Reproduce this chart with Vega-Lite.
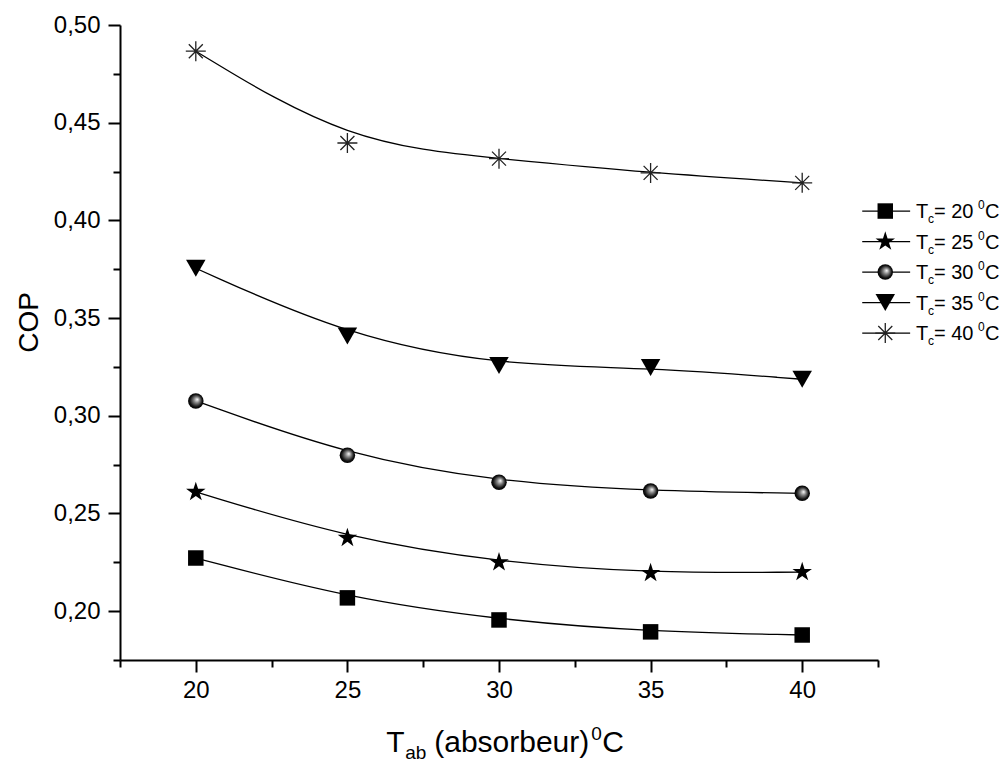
{
  "$schema": "https://vega.github.io/schema/vega-lite/v6.json",
  "width": 758,
  "height": 635,
  "autosize": "none",
  "padding": {"left": 120, "top": 25, "right": 129, "bottom": 107},
  "background": "white",
  "config": {"view": {"stroke": null}, "font": "Liberation Sans"},
  "datasets": {
    "cop": [
      {"Tc": 20, "T": 20, "COP": 0.2272}, {"Tc": 20, "T": 25, "COP": 0.2068}, {"Tc": 20, "T": 30, "COP": 0.1955}, {"Tc": 20, "T": 35, "COP": 0.1894}, {"Tc": 20, "T": 40, "COP": 0.1878},
      {"Tc": 25, "T": 20, "COP": 0.2610}, {"Tc": 25, "T": 25, "COP": 0.2375}, {"Tc": 25, "T": 30, "COP": 0.2250}, {"Tc": 25, "T": 35, "COP": 0.2195}, {"Tc": 25, "T": 40, "COP": 0.2200},
      {"Tc": 30, "T": 20, "COP": 0.3076}, {"Tc": 30, "T": 25, "COP": 0.2798}, {"Tc": 30, "T": 30, "COP": 0.2660}, {"Tc": 30, "T": 35, "COP": 0.2615}, {"Tc": 30, "T": 40, "COP": 0.2603},
      {"Tc": 35, "T": 20, "COP": 0.3755}, {"Tc": 35, "T": 25, "COP": 0.3408}, {"Tc": 35, "T": 30, "COP": 0.3257}, {"Tc": 35, "T": 35, "COP": 0.3247}, {"Tc": 35, "T": 40, "COP": 0.3187},
      {"Tc": 40, "T": 20, "COP": 0.4866}, {"Tc": 40, "T": 25, "COP": 0.4396}, {"Tc": 40, "T": 30, "COP": 0.4316}, {"Tc": 40, "T": 35, "COP": 0.4243}, {"Tc": 40, "T": 40, "COP": 0.4192}
    ],
    "legend": [
      {"Tc": 20, "label": "= 20"},
      {"Tc": 25, "label": "= 25"},
      {"Tc": 30, "label": "= 30"},
      {"Tc": 35, "label": "= 35"},
      {"Tc": 40, "label": "= 40"}
    ]
  },
  "layer": [
    {
      "layer": [
        {
          "data": {"name": "cop"},
          "mark": {"type": "line", "interpolate": "basis", "color": "black", "strokeWidth": 1.3},
          "encoding": {
            "x": {
              "field": "T", "type": "quantitative",
              "scale": {"domain": [17.5, 42.5], "nice": false, "zero": false},
              "axis": {
                "values": [17.5, 20, 22.5, 25, 27.5, 30, 32.5, 35, 37.5, 40, 42.5],
                "labelExpr": "datum.value % 5 === 0 ? format(datum.value, 'd') : ''",
                "tickSize": {"condition": {"test": "datum.value % 5 === 0", "value": 12}, "value": 7},
                "tickWidth": 2, "tickColor": "black",
                "domainColor": "black", "domainWidth": 2,
                "labelFontSize": 24, "labelColor": "black", "labelPadding": 6,
                "labelFont": "Liberation Sans", "labelFlush": false, "labelOverlap": false,
                "grid": false, "title": null
              }
            },
            "y": {
              "field": "COP", "type": "quantitative",
              "scale": {"domain": [0.175, 0.5], "nice": false, "zero": false},
              "axis": {
                "values": [0.175, 0.2, 0.225, 0.25, 0.275, 0.3, 0.325, 0.35, 0.375, 0.4, 0.425, 0.45, 0.475, 0.5],
                "labelExpr": "round(datum.value*1000) % 50 === 0 ? replace(format(datum.value, '.2f'), '.', ',') : ''",
                "tickSize": {"condition": {"test": "round(datum.value*1000) % 50 === 0", "value": 12}, "value": 7},
                "tickWidth": 2, "tickColor": "black",
                "domainColor": "black", "domainWidth": 2,
                "labelFontSize": 24, "labelColor": "black", "labelPadding": 8,
                "labelFont": "Liberation Sans", "labelFlush": false, "labelOverlap": false,
                "grid": false,
                "title": "COP", "titleFontSize": 28, "titleFontWeight": "normal", "titleColor": "black",
                "titleFont": "Liberation Sans", "titlePadding": 10, "titleY": 297
              }
            },
            "detail": {"field": "Tc"}
          }
        },
        {
          "data": {"name": "cop"},
          "transform": [{"filter": "datum.Tc === 20"}],
          "mark": {"type": "point", "shape": "square", "filled": true, "color": "black", "size": 240, "opacity": 1},
          "encoding": {"x": {"field": "T", "type": "quantitative"}, "y": {"field": "COP", "type": "quantitative"}}
        },
        {
          "data": {"name": "cop"},
          "transform": [{"filter": "datum.Tc === 25"}],
          "mark": {"type": "point", "shape": "M0,-1L0.2245,-0.309L0.951,-0.309L0.363,0.118L0.588,0.809L0,0.382L-0.588,0.809L-0.363,0.118L-0.951,-0.309L-0.2245,-0.309Z", "filled": true, "color": "black", "size": 420, "opacity": 1},
          "encoding": {"x": {"field": "T", "type": "quantitative"}, "y": {"field": "COP", "type": "quantitative"}}
        },
        {
          "data": {"name": "cop"},
          "transform": [{"filter": "datum.Tc === 30"}],
          "mark": {"type": "point", "shape": "circle", "filled": true, "size": 240, "opacity": 1, "strokeWidth": 0,
            "fill": {"gradient": "radial", "x1": 0.6, "y1": 0.4, "r1": 0, "x2": 0.5, "y2": 0.5, "r2": 0.5,
              "stops": [{"offset": 0, "color": "#ffffff"}, {"offset": 0.35, "color": "#8a8a8a"}, {"offset": 0.8, "color": "#111111"}, {"offset": 1, "color": "#000000"}]}},
          "encoding": {"x": {"field": "T", "type": "quantitative"}, "y": {"field": "COP", "type": "quantitative"}}
        },
        {
          "data": {"name": "cop"},
          "transform": [{"filter": "datum.Tc === 35"}],
          "mark": {"type": "point", "shape": "triangle-down", "filled": true, "color": "black", "size": 380, "opacity": 1},
          "encoding": {"x": {"field": "T", "type": "quantitative"}, "y": {"field": "COP", "type": "quantitative"}}
        },
        {
          "data": {"name": "cop"},
          "transform": [{"filter": "datum.Tc === 40"}],
          "mark": {"type": "point", "shape": "M-1,0L1,0M0,-1L0,1M-0.7,-0.7L0.7,0.7M-0.7,0.7L0.7,-0.7", "filled": false, "color": "#222222", "strokeWidth": 1.3, "size": 400, "opacity": 1},
          "encoding": {"x": {"field": "T", "type": "quantitative"}, "y": {"field": "COP", "type": "quantitative"}}
        },
        {
          "data": {"values": [{}]},
          "mark": {"type": "text", "text": "T", "fontSize": 30, "align": "left", "baseline": "alphabetic", "color": "black"},
          "encoding": {"x": {"datum": 26.28, "type": "quantitative"}, "y": {"datum": 0.1278, "type": "quantitative"}}
        },
        {
          "data": {"values": [{}]},
          "mark": {"type": "text", "text": "ab", "fontSize": 19, "align": "left", "baseline": "alphabetic", "color": "black", "dx": 19, "dy": 7},
          "encoding": {"x": {"datum": 26.28, "type": "quantitative"}, "y": {"datum": 0.1278, "type": "quantitative"}}
        },
        {
          "data": {"values": [{}]},
          "mark": {"type": "text", "text": "(absorbeur)", "fontSize": 30, "align": "left", "baseline": "alphabetic", "color": "black", "dx": 48},
          "encoding": {"x": {"datum": 26.28, "type": "quantitative"}, "y": {"datum": 0.1278, "type": "quantitative"}}
        },
        {
          "data": {"values": [{}]},
          "mark": {"type": "text", "text": "0", "fontSize": 19, "align": "left", "baseline": "alphabetic", "color": "black", "dx": 205, "dy": -12},
          "encoding": {"x": {"datum": 26.28, "type": "quantitative"}, "y": {"datum": 0.1278, "type": "quantitative"}}
        },
        {
          "data": {"values": [{}]},
          "mark": {"type": "text", "text": "C", "fontSize": 30, "align": "left", "baseline": "alphabetic", "color": "black", "dx": 216},
          "encoding": {"x": {"datum": 26.28, "type": "quantitative"}, "y": {"datum": 0.1278, "type": "quantitative"}}
        }
      ]
    },
    {
      "data": {"name": "legend"},
      "encoding": {
        "y": {"field": "Tc", "type": "quantitative", "scale": {"domain": [-10.5, 93.6], "reverse": true, "nice": false, "zero": false}, "axis": null}
      },
      "layer": [
        {
          "mark": {"type": "rule", "color": "black", "strokeWidth": 1.3},
          "encoding": {"x": {"datum": 41.98, "type": "quantitative"}, "x2": {"datum": 43.56}}
        },
        {
          "transform": [{"filter": "datum.Tc === 20"}],
          "mark": {"type": "point", "shape": "square", "filled": true, "color": "black", "size": 240, "opacity": 1},
          "encoding": {"x": {"datum": 42.74, "type": "quantitative"}}
        },
        {
          "transform": [{"filter": "datum.Tc === 25"}],
          "mark": {"type": "point", "shape": "M0,-1L0.2245,-0.309L0.951,-0.309L0.363,0.118L0.588,0.809L0,0.382L-0.588,0.809L-0.363,0.118L-0.951,-0.309L-0.2245,-0.309Z", "filled": true, "color": "black", "size": 420, "opacity": 1},
          "encoding": {"x": {"datum": 42.74, "type": "quantitative"}}
        },
        {
          "transform": [{"filter": "datum.Tc === 30"}],
          "mark": {"type": "point", "shape": "circle", "filled": true, "size": 240, "opacity": 1, "strokeWidth": 0,
            "fill": {"gradient": "radial", "x1": 0.6, "y1": 0.4, "r1": 0, "x2": 0.5, "y2": 0.5, "r2": 0.5,
              "stops": [{"offset": 0, "color": "#ffffff"}, {"offset": 0.35, "color": "#8a8a8a"}, {"offset": 0.8, "color": "#111111"}, {"offset": 1, "color": "#000000"}]}},
          "encoding": {"x": {"datum": 42.74, "type": "quantitative"}}
        },
        {
          "transform": [{"filter": "datum.Tc === 35"}],
          "mark": {"type": "point", "shape": "triangle-down", "filled": true, "color": "black", "size": 380, "opacity": 1},
          "encoding": {"x": {"datum": 42.74, "type": "quantitative"}}
        },
        {
          "transform": [{"filter": "datum.Tc === 40"}],
          "mark": {"type": "point", "shape": "M-1,0L1,0M0,-1L0,1M-0.7,-0.7L0.7,0.7M-0.7,0.7L0.7,-0.7", "filled": false, "color": "#222222", "strokeWidth": 1.3, "size": 400, "opacity": 1},
          "encoding": {"x": {"datum": 42.74, "type": "quantitative"}}
        },
        {
          "mark": {"type": "text", "text": "T", "fontSize": 20, "align": "left", "baseline": "alphabetic", "color": "black", "dy": 7},
          "encoding": {"x": {"datum": 43.75, "type": "quantitative"}}
        },
        {
          "mark": {"type": "text", "text": "c", "fontSize": 12, "align": "left", "baseline": "alphabetic", "color": "black", "dx": 12, "dy": 12},
          "encoding": {"x": {"datum": 43.75, "type": "quantitative"}}
        },
        {
          "mark": {"type": "text", "fontSize": 20, "align": "left", "baseline": "alphabetic", "color": "black", "dx": 18, "dy": 7},
          "encoding": {"x": {"datum": 43.75, "type": "quantitative"}, "text": {"field": "label"}}
        },
        {
          "mark": {"type": "text", "text": "0", "fontSize": 12, "align": "left", "baseline": "alphabetic", "color": "black", "dx": 62, "dy": -2},
          "encoding": {"x": {"datum": 43.75, "type": "quantitative"}}
        },
        {
          "mark": {"type": "text", "text": "C", "fontSize": 20, "align": "left", "baseline": "alphabetic", "color": "black", "dx": 69, "dy": 7},
          "encoding": {"x": {"datum": 43.75, "type": "quantitative"}}
        }
      ]
    }
  ],
  "resolve": {"scale": {"y": "independent"}}
}
